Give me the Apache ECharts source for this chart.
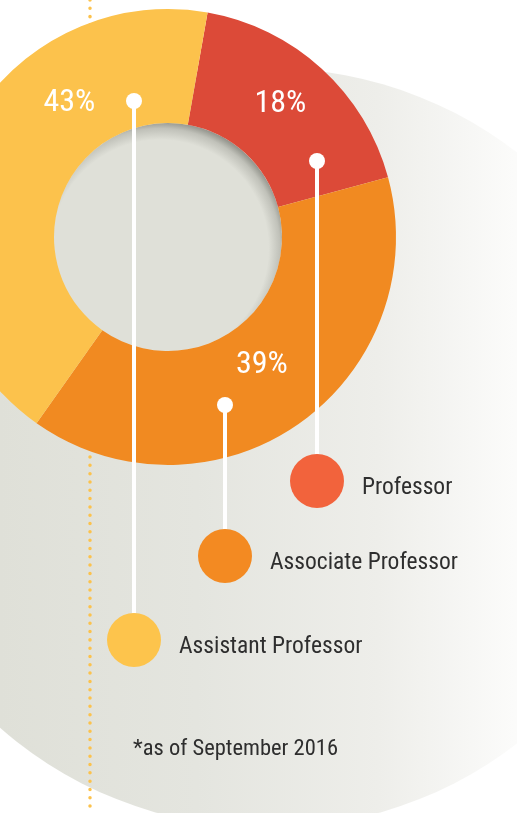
<!DOCTYPE html>
<html>
<head>
<meta charset="utf-8">
<title>Faculty by rank</title>
<script src="https://cdn.jsdelivr.net/npm/echarts@6/dist/echarts.min.js"></script>
<style>
  html, body { margin: 0; padding: 0; background: #fff; }
  #chart { width: 517px; height: 813px; }
</style>
</head>
<body>
<div id="chart"></div>
<script>
(() => {
  // data
  var ranks = ["Professor", "Associate Professor", "Assistant Professor"];
  var shares = [18, 39, 43];
  var note = "*as of September 2016";

  // look
  var sliceColors = ["#dc4a38", "#f18a21", "#fcc24c"];
  var keyColors = ["#f2633c", "#f38a22", "#fdc44c"];
  var FONT = "'Roboto Condensed', 'DejaVu Sans Condensed', sans-serif";
  var CENTER = [168, 237];
  var R_IN = 114, R_OUT = 228;
  var KEY_R = 27;
  var keyPos = [[317, 481], [225, 556], [134, 640]];   // legend circle centres
  var dotPos = [[317, 161], [225, 405], [134, 101]];   // white connector dots
  var labelShift = [[-5, -5], [-6, -15], [62, -67]];

  var chart = echarts.init(document.getElementById("chart"));

  var graphics = [
    // soft grey disc behind everything
    {
      type: "circle", silent: true, z: -10,
      x: 268, y: 448, scaleX: 396 / 380,
      shape: { cx: 0, cy: 0, r: 380 },
      style: {
        fill: {
          type: "linear", x: 0, y: 0, x2: 1, y2: 0,
          colorStops: [
            { offset: 0, color: "#dcddd4" },
            { offset: 0.16, color: "#dfe0d8" },
            { offset: 0.41, color: "#e4e5df" },
            { offset: 0.64, color: "#eeeeea" },
            { offset: 0.81, color: "#fbfbfa" },
            { offset: 1, color: "#ffffff" }
          ]
        }
      }
    },
    // dotted guide
    {
      type: "line", silent: true, z: -5,
      shape: { x1: 90, y1: 0, x2: 90, y2: 813 },
      style: { stroke: "#fcc24c", lineWidth: 3.5, lineDash: [0.01, 8.3], lineCap: "round" }
    },
    // the hole, with a soft inner shadow
    {
      type: "circle", silent: true, z: 1,
      shape: { cx: CENTER[0], cy: CENTER[1], r: R_IN },
      style: {
        fill: {
          type: "radial", x: 0.465, y: 0.55, r: 0.56,
          colorStops: [
            { offset: 0, color: "#dfe0d8" },
            { offset: 0.85, color: "#dfe0d8" },
            { offset: 0.94, color: "#c0c1b9" },
            { offset: 1, color: "#909189" }
          ]
        }
      }
    }
  ];

  // white connectors from each slice to its key
  ranks.forEach(function (r, i) {
    graphics.push({
      type: "line", silent: true, z: 10,
      shape: { x1: dotPos[i][0], y1: dotPos[i][1], x2: keyPos[i][0], y2: keyPos[i][1] - KEY_R },
      style: { stroke: "#fff", lineWidth: 4 }
    });
    graphics.push({
      type: "circle", silent: true, z: 10,
      shape: { cx: dotPos[i][0], cy: dotPos[i][1], r: 8 },
      style: { fill: "#fff" }
    });
  });

  var option = {
    animation: false,
    title: {
      text: note,
      left: 133, top: 738, padding: 0,
      textStyle: { fontSize: 22.5, fontWeight: "normal", color: "#2e2e2e", fontFamily: FONT }
    },
    legend: ranks.map(function (r, i) {
      return {
        data: [{ name: r, itemStyle: { color: keyColors[i] } }],
        left: keyPos[i][0] - KEY_R,
        top: keyPos[i][1] - KEY_R,
        padding: 0,
        icon: "circle",
        itemWidth: KEY_R * 2,
        itemHeight: KEY_R * 2,
        selectedMode: false,
        formatter: function (name) { return "{t|" + name + "}"; },
        textStyle: {
          rich: {
            t: { fontSize: 23.5, color: "#2e2e2e", fontFamily: FONT, padding: [14, 0, 0, 13] }
          }
        }
      };
    }),
    graphic: graphics,
    series: [{
      type: "pie",
      center: CENTER,
      radius: [R_IN, R_OUT],
      startAngle: 80,
      clockwise: true,
      silent: true,
      avoidLabelOverlap: false,
      z: 3,
      label: {
        show: true,
        position: "inside",
        color: "#fff",
        fontSize: 32,
        fontFamily: FONT,
        formatter: "{c}%"
      },
      labelLine: { show: false },
      labelLayout: function (p) {
        var d = labelShift[p.dataIndex];
        return { dx: d[0], dy: d[1] };
      },
      emphasis: { disabled: true },
      data: ranks.map(function (r, i) {
        return { name: r, value: shares[i], itemStyle: { color: sliceColors[i] } };
      })
    }]
  };

  chart.setOption(option);
})();
</script>
</body>
</html>
